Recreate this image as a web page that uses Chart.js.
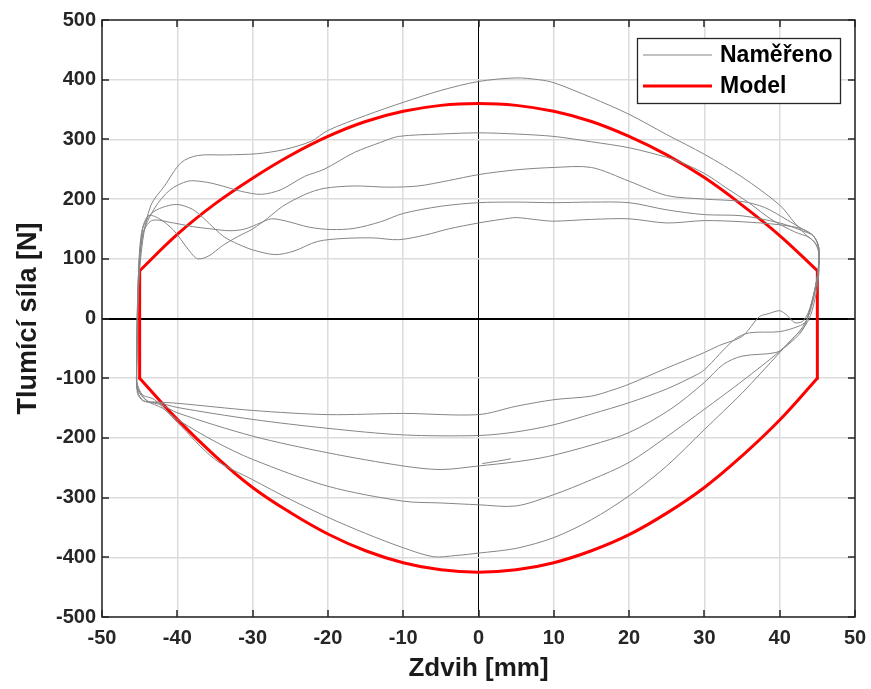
<!DOCTYPE html>
<html>
<head>
<meta charset="utf-8">
<title>Tlumící síla</title>
<script src="https://cdn.jsdelivr.net/npm/chart.js@4.4.1/dist/chart.umd.min.js"></script>
<style>
  body { margin: 0; background: #fff; }
  canvas { display: block; }
</style>
</head>
<body>
<canvas id="graf" width="871" height="689"></canvas>
<script>
// osy
const xTicks = [-50, -40, -30, -20, -10, 0, 10, 20, 30, 40, 50];
const yTicks = [-500, -400, -300, -200, -100, 0, 100, 200, 300, 400, 500];

// model - horni a dolni vetev
const modelX = [-45, -40, -35, -30, -25, -20, -15, -10, -5, 0, 5, 10, 15, 20, 25, 30, 35, 40, 45];
const modelTopY = [80, 141, 192, 235, 273, 305, 330, 347, 357, 360, 357, 347, 330, 305, 274, 236, 190, 139, 80];
const modelBotY = [-100, -169, -230, -283, -325, -361, -389, -409, -421, -425, -421, -409, -389, -362, -326, -283, -230, -170, -100];

// namereno - smycka 1 (nejvetsi)
const t1x = [-45.4, -45.2, -44.6, -43.5, -41.7, -39.5, -37.3, -33.7, -29.4, -25.8, -22.2, -20, -15, -10, -5, 0, 5, 8, 10, 15, 20, 25, 30, 35, 40, 42, 43.5, 44.6, 45.2, 45.2, 44.8, 44.1, 43.2];
const t1y = [-90, 40, 130, 190, 222, 261, 273, 274, 276, 283, 297, 315, 340, 362, 382, 397, 403, 400, 395, 370, 342, 308, 275, 237, 190, 160, 140, 128, 110, 75, 40, 5, -15];
const b1x = [42, 40, 35, 30, 25, 20, 15, 10, 5, 0, -3, -6, -10, -15, -20, -25, -30, -35, -40, -43, -44.6, -45.3];
const b1y = [-30, -57, -125, -186, -247, -297, -337, -367, -385, -393, -397, -399, -384, -360, -333, -303, -270, -236, -174, -136, -128, -110];

// smycka 2
const t2x = [-45.4, -45.2, -44.6, -43, -41, -38.6, -36.5, -34.6, -31.5, -28.8, -26.2, -23.1, -20.5, -16.5, -13, -10.6, -5, 0, 5, 10, 15, 20, 25, 27, 30, 33, 36, 39, 42, 44, 45.1, 45.1, 44.7, 44, 43];
const t2y = [-80, 40, 140, 185, 215, 230, 229, 224, 213, 208, 216, 238, 250, 278, 295, 305, 309, 311, 309, 305, 296, 286, 270, 261, 243, 218, 193, 165, 145, 135, 118, 80, 45, 10, -15];
const b2x = [42, 40, 35, 30, 25, 20, 15, 10, 5, 0, -5, -10, -20, -30, -35, -40, -42, -44, -45.3];
const b2y = [-30, -55, -105, -152, -198, -241, -270, -295, -314, -312, -309, -306, -281, -236, -206, -169, -150, -138, -115];

// smycka 3
const t3x = [-45.4, -45.2, -44.8, -43.9, -42.5, -40.5, -38.5, -37.3, -35.8, -34, -32, -30, -28, -26, -23, -20.5, -16.5, -12, -8, -4, 0, 5, 10, 15, 20, 25, 30, 35, 38, 41, 43, 44.5, 45.2, 45.1, 44.6, 43.9, 43];
const t3y = [-80, 60, 140, 172, 168, 148, 115, 100, 105, 122, 137, 150, 168, 188, 208, 218, 222, 220, 222, 231, 241, 249, 253, 253, 230, 206, 200, 196, 186, 165, 150, 138, 118, 80, 45, 10, -20];
const b3x = [41, 39.5, 35, 32.5, 30, 25.5, 20, 15, 9.3, 5, 0, -5, -10, -20, -30, -40, -42, -44, -45.3];
const b3y = [-45, -57, -63, -77, -107, -152, -191, -212, -231, -240, -247, -253, -247, -225, -197, -158, -145, -138, -118];

// smycka 4
const t4x = [-45.4, -45.2, -44.6, -43.4, -40.5, -38, -35.5, -33, -31, -29, -27.5, -25.5, -22.5, -19.6, -16.5, -13, -10, -5, 0, 5, 10, 15, 20, 25, 30, 35, 40, 43, 44.5, 45.2, 45.1, 44.6, 43.9, 43.5];
const t4y = [-80, 60, 140, 164, 160, 154, 150, 147, 150, 160, 167, 163, 153, 149, 151, 162, 176, 188, 194, 195, 194, 195, 194, 182, 174, 172, 160, 147, 138, 118, 80, 45, 10, -5];
const b4x = [42.5, 40, 36, 34, 30, 29, 25, 20, 15, 10, 5, 0, -10, -20, -30, -40, -42.5, -44.5, -45.3];
const b4y = [-13, -22, -24, -35, -86, -94, -118, -141, -160, -178, -190, -196, -195, -184, -169, -149, -141, -138, -120];

// smycka 5 (nejmensi)
const t5x = [-45.4, -45.2, -44.6, -43.5, -42, -40, -38, -36.5, -35, -33.7, -32, -30, -27, -24.5, -21.4, -18, -14, -10.6, -7, -4, 0, 3, 5, 8, 10, 15, 20, 25, 30, 35, 40, 43, 44.5, 45.2, 45.1, 44.6, 43.8];
const t5y = [-80, 60, 150, 175, 186, 191, 183, 168, 150, 136, 125, 115, 107, 113, 129, 134, 135, 132, 140, 150, 160, 166, 169, 165, 163, 166, 167, 160, 164, 162, 157, 150, 138, 118, 80, 45, 10];
const b5x = [43, 42, 41, 40, 38.5, 37.3, 35, 32, 30, 25, 20, 18, 15, 10, 5, 0, -10, -20, -30, -40, -42.5, -44.5, -45.3];
const b5y = [-5, -7, 5, 13, 8, 3, -30, -45, -57, -83, -110, -119, -130, -136, -147, -161, -159, -161, -154, -142, -140, -138, -125];

// kratky zacatek zaznamu
const stubX = [0.5, 2.5, 4.3];
const stubY = [-243, -239, -235];

const pismo = "'Liberation Sans', Arial, Helvetica, sans-serif";
const seda = '#858585';
const cervena = '#ff0000';

function body(xs, ys) {
    return xs.map((x, i) => ({ x: x, y: ys[i] }));
}

function smycka(tx, ty, bx, by) {
    const pts = body(tx, ty).concat(body(bx, by));
    pts.push(pts[0]);
    return pts;
}

function sedaCara(data, label) {
    return { label: label, data: data, borderColor: seda, borderWidth: 1, tension: 0.3, showLine: true, pointRadius: 0, fill: false };
}

function modelCara(data, label) {
    return { label: label, data: data, borderColor: cervena, borderWidth: 3, tension: 0.4, showLine: true, pointRadius: 0, fill: false, borderCapStyle: 'round', borderJoinStyle: 'round' };
}

const datasets = [
    sedaCara(smycka(t1x, t1y, b1x, b1y), 'Naměřeno'),
    sedaCara(smycka(t2x, t2y, b2x, b2y), ''),
    sedaCara(smycka(t3x, t3y, b3x, b3y), ''),
    sedaCara(smycka(t4x, t4y, b4x, b4y), ''),
    sedaCara(smycka(t5x, t5y, b5x, b5y), ''),
    sedaCara(body(stubX, stubY), ''),
    modelCara(body(modelX, modelTopY), 'Model'),
    modelCara(body(modelX, modelBotY), ''),
    modelCara(body([45, 45], [modelTopY[modelTopY.length - 1], modelBotY[modelBotY.length - 1]]), ''),
    modelCara(body([-45, -45], [modelBotY[0], modelTopY[0]]), '')
];

// ramecek os, ticky dovnitr a legenda
const ramecek = {
    id: 'ramecek',
    afterDraw(chart) {
        const ctx = chart.ctx;
        const a = chart.chartArea;
        const sx = chart.scales.x, sy = chart.scales.y;
        ctx.save();
        ctx.strokeStyle = '#262626';
        ctx.lineWidth = 1.5;
        ctx.strokeRect(a.left, a.top, a.right - a.left, a.bottom - a.top);
        ctx.beginPath();
        xTicks.forEach(v => {
            const px = Math.round(sx.getPixelForValue(v));
            ctx.moveTo(px, a.bottom); ctx.lineTo(px, a.bottom - 7);
            ctx.moveTo(px, a.top); ctx.lineTo(px, a.top + 7);
        });
        yTicks.forEach(v => {
            const py = Math.round(sy.getPixelForValue(v));
            ctx.moveTo(a.left, py); ctx.lineTo(a.left + 7, py);
            ctx.moveTo(a.right, py); ctx.lineTo(a.right - 7, py);
        });
        ctx.stroke();

        // legenda
        const lx = 637, ly = 38, lw = 203, lh = 65;
        ctx.fillStyle = '#fff';
        ctx.fillRect(lx, ly, lw, lh);
        ctx.lineWidth = 1.3;
        ctx.strokeStyle = '#262626';
        ctx.strokeRect(lx + 0.5, ly + 0.5, lw, lh);
        const polozky = [
            { text: datasets[0].label, barva: seda, sirka: 1.2, y: ly + 17 },
            { text: datasets[6].label, barva: cervena, sirka: 3, y: ly + 48 }
        ];
        ctx.font = 'bold 23px ' + pismo;
        ctx.textBaseline = 'middle';
        ctx.textAlign = 'left';
        polozky.forEach(p => {
            ctx.beginPath();
            ctx.strokeStyle = p.barva;
            ctx.lineWidth = p.sirka;
            ctx.moveTo(lx + 6, p.y); ctx.lineTo(lx + 75, p.y);
            ctx.stroke();
            ctx.fillStyle = '#000';
            ctx.fillText(p.text, lx + 83, p.y + 1);
        });
        ctx.restore();
    }
};

function barvaMrizky(c) {
    return c.tick && c.tick.value === 0 ? '#000' : '#dcdcdc';
}

new Chart(document.getElementById('graf'), {
    type: 'scatter',
    data: { datasets: datasets },
    options: {
        responsive: false,
        devicePixelRatio: 1,
        animation: false,
        layout: { padding: { top: 20, right: 16, left: 0, bottom: 0 } },
        plugins: {
            legend: { display: false },
            tooltip: { enabled: false }
        },
        scales: {
            x: {
                type: 'linear',
                min: -50,
                max: 50,
                afterFit: s => { s.height = 72; s.paddingLeft = 0; s.paddingRight = 0; },
                afterBuildTicks: s => { s.ticks = xTicks.map(v => ({ value: v })); },
                border: { display: false },
                grid: {
                    drawTicks: false,
                    color: barvaMrizky,
                    lineWidth: c => (c.tick && c.tick.value === 0 ? 1 : 1.5)
                },
                ticks: {
                    padding: 9,
                    maxRotation: 0,
                    autoSkip: false,
                    color: '#262626',
                    font: { family: pismo, size: 20, weight: 'bold' }
                },
                title: {
                    display: true,
                    text: 'Zdvih [mm]',
                    color: '#1a1a1a',
                    padding: { top: 0, bottom: 5 },
                    font: { family: pismo, size: 26, weight: 'bold' }
                }
            },
            y: {
                type: 'linear',
                min: -500,
                max: 500,
                afterFit: s => { s.width = 102; s.paddingTop = 0; s.paddingBottom = 0; },
                afterBuildTicks: s => { s.ticks = yTicks.map(v => ({ value: v })); },
                border: { display: false },
                grid: {
                    drawTicks: false,
                    color: barvaMrizky,
                    lineWidth: c => (c.tick && c.tick.value === 0 ? 2 : 1.5)
                },
                ticks: {
                    padding: 6,
                    autoSkip: false,
                    color: '#262626',
                    font: { family: pismo, size: 20, weight: 'bold' }
                },
                title: {
                    display: true,
                    text: 'Tlumící síla [N]',
                    color: '#1a1a1a',
                    padding: { top: 12, bottom: 0 },
                    font: { family: pismo, size: 27, weight: 'bold' }
                }
            }
        }
    },
    plugins: [ramecek]
});
</script>
</body>
</html>
